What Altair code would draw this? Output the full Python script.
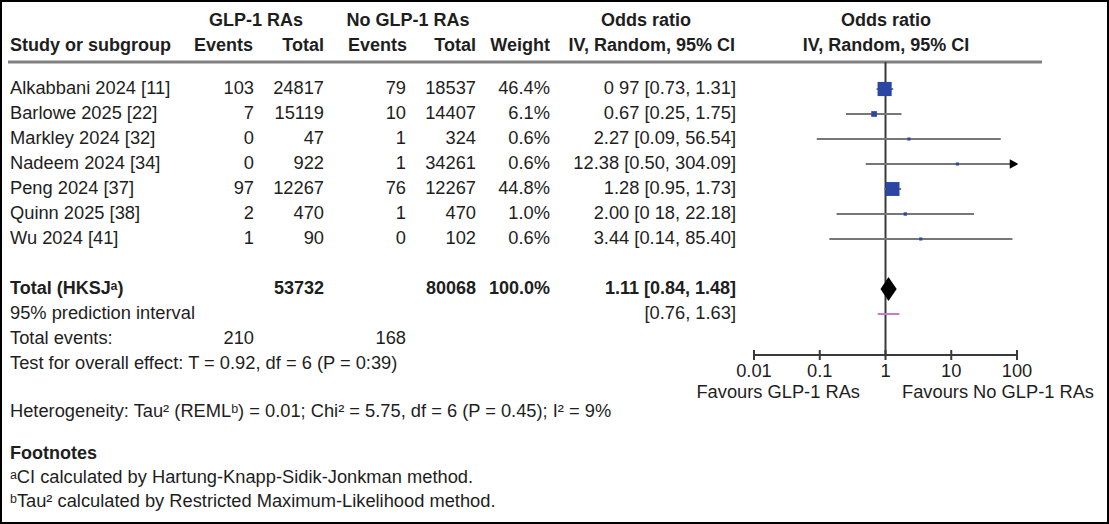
import altair as alt
import pandas as pd

# ---- study-level data -------------------------------------------------------
studies = ["Alkabbani 2024 [11]", "Barlowe 2025 [22]", "Markley 2024 [32]",
           "Nadeem 2024 [34]", "Peng 2024 [37]", "Quinn 2025 [38]", "Wu 2024 [41]"]
glp_events = [103, 7, 0, 0, 97, 2, 1]
glp_total = [24817, 15119, 47, 922, 12267, 470, 90]
ctrl_events = [79, 10, 1, 1, 76, 1, 0]
ctrl_total = [18537, 14407, 324, 34261, 12267, 470, 102]
weights = [46.4, 6.1, 0.6, 0.6, 44.8, 1.0, 0.6]
odds_ratio = [0.97, 0.67, 2.27, 12.38, 1.28, 2.00, 3.44]
ci_low = [0.73, 0.25, 0.09, 0.50, 0.95, 0.18, 0.14]
ci_high = [1.31, 1.75, 56.54, 304.09, 1.73, 22.18, 85.40]
or_text = ["0 97 [0.73, 1.31]", "0.67 [0.25, 1.75]", "2.27 [0.09, 56.54]",
           "12.38 [0.50, 304.09]", "1.28 [0.95, 1.73]", "2.00 [0 18, 22.18]",
           "3.44 [0.14, 85.40]"]

# ---- pooled results ---------------------------------------------------------
pooled_or, pooled_low, pooled_high = 1.11, 0.84, 1.48
pred_low, pred_high = 0.76, 1.63
total_glp, total_ctrl = 53732, 80068
events_glp, events_ctrl = 210, 168

axis_ticks = [0.01, 0.1, 1, 10, 100]
axis_labels = ["0.01", "0.1", "1", "10", "100"]

FONT = "Liberation Sans"
FS = 18.3
FS_BOLD = 18
INK = "#1e1e1e"

# vertical layout in "line" units (one table row per unit)
n = len(studies)
study_rows = list(range(n))
total_row = n + 1
pred_row = n + 2
events_row = n + 3
test_row = n + 4
axis_row = 10.64
head1_row, head2_row = -2.72, -1.72
rule_row = -1.08

yscale = alt.Scale(domain=[-3.56, 17.4], range=[0, 524])
xscale = alt.Scale(type="log", domain=[axis_ticks[0], axis_ticks[-1]], range=[754, 1017])
X_MAX = axis_ticks[-1]


def texts(items, x, align="right", bold=False):
    df = pd.DataFrame(items, columns=["label", "row"])
    return alt.Chart(df).mark_text(
        align=align, baseline="middle", font=FONT,
        fontSize=FS_BOLD if bold else FS,
        fontWeight="bold" if bold else "normal", color=INK,
    ).encode(
        x=alt.value(x),
        y=alt.Y("row:Q", scale=yscale, axis=None),
        text="label:N",
    )


layers = []

# column headers
layers += [
    texts([("GLP-1 RAs", head1_row)], 256, "center", True),
    texts([("No GLP-1 RAs", head1_row)], 408, "center", True),
    texts([("Odds ratio", head1_row)], 646, "center", True),
    texts([("Odds ratio", head1_row)], 886, "center", True),
    texts([("Study or subgroup", head2_row)], 10, "left", True),
    texts([("Events", head2_row)], 253, "right", True),
    texts([("Total", head2_row)], 324, "right", True),
    texts([("Events", head2_row)], 407, "right", True),
    texts([("Total", head2_row)], 476, "right", True),
    texts([("Weight", head2_row)], 550, "right", True),
    texts([("IV, Random, 95% CI", head2_row)], 735, "right", True),
    texts([("IV, Random, 95% CI", head2_row)], 886, "center", True),
]

# study rows
layers += [
    texts(list(zip(studies, study_rows)), 10, "left"),
    texts(list(zip([str(v) for v in glp_events], study_rows)), 254),
    texts(list(zip([str(v) for v in glp_total], study_rows)), 324),
    texts(list(zip([str(v) for v in ctrl_events], study_rows)), 406),
    texts(list(zip([str(v) for v in ctrl_total], study_rows)), 476),
    texts(list(zip([f"{w:.1f}%" for w in weights], study_rows)), 550),
    texts(list(zip(or_text, study_rows)), 736),
]

# totals and summary lines
layers += [
    texts([("Total (HKSJ\u1d43)", total_row)], 10, "left", True),
    texts([(str(total_glp), total_row)], 324, "right", True),
    texts([(str(total_ctrl), total_row)], 476, "right", True),
    texts([("100.0%", total_row)], 550, "right", True),
    texts([(f"{pooled_or:.2f} [{pooled_low:.2f}, {pooled_high:.2f}]", total_row)], 736, "right", True),
    texts([("95% prediction interval", pred_row)], 10, "left"),
    texts([(f"[{pred_low:.2f}, {pred_high:.2f}]", pred_row)], 736, "right"),
    texts([("Total events:", events_row)], 10, "left"),
    texts([(str(events_glp), events_row)], 254),
    texts([(str(events_ctrl), events_row)], 406),
    texts([("Test for overall effect: T = 0.92, df = 6 (P = 0:39)", test_row)], 10, "left"),
    texts([("Heterogeneity: Tau\u00b2 (REML\u1d47) = 0.01; Chi\u00b2 = 5.75, df = 6 (P = 0.45); I\u00b2 = 9%", 12.92)], 10, "left"),
    texts([("Footnotes", 14.6)], 10, "left", True),
    texts([("\u1d43CI calculated by Hartung-Knapp-Sidik-Jonkman method.", 15.56)], 10, "left"),
    texts([("\u1d47Tau\u00b2 calculated by Restricted Maximum-Likelihood method.", 16.52)], 10, "left"),
]

# header separator
sep = alt.Chart(pd.DataFrame({"row": [rule_row]})).mark_rule(
    color="#808080", strokeWidth=3
).encode(x=alt.value(8), x2=alt.value(1042), y=alt.Y("row:Q", scale=yscale, axis=None))
layers.append(sep)

# line of no effect
noeff = alt.Chart(pd.DataFrame({"x": [1.0], "r1": [rule_row], "r2": [axis_row]})).mark_rule(
    color="#3a3a3a", strokeWidth=2
).encode(
    x=alt.X("x:Q", scale=xscale, axis=None),
    y=alt.Y("r1:Q", scale=yscale, axis=None),
    y2="r2:Q",
)
layers.append(noeff)

# study confidence intervals, squares, and overflow arrows
forest = pd.DataFrame({
    "study": studies, "row": study_rows, "or": odds_ratio, "lo": ci_low,
    "hi": [min(h, X_MAX) for h in ci_high], "w": weights,
})
ci = alt.Chart(forest).mark_rule(color="#777777", strokeWidth=2).encode(
    x=alt.X("lo:Q", scale=xscale, axis=None), x2="hi:Q",
    y=alt.Y("row:Q", scale=yscale, axis=None),
)
boxes = alt.Chart(forest).mark_square(color="#2b47a3", opacity=1).encode(
    x=alt.X("or:Q", scale=xscale, axis=None),
    y=alt.Y("row:Q", scale=yscale, axis=None),
    size=alt.Size("w:Q", scale=alt.Scale(domain=[0, 46.4], range=[7, 200]), legend=None),
)
over = pd.DataFrame({"row": [r for r, h in zip(study_rows, ci_high) if h > X_MAX]})
over["x"] = X_MAX
arrows = alt.Chart(over).mark_point(
    shape="triangle-right", filled=True, color="#000000", size=95, opacity=1, xOffset=-3
).encode(
    x=alt.X("x:Q", scale=xscale, axis=None),
    y=alt.Y("row:Q", scale=yscale, axis=None),
)
layers += [ci, boxes, arrows]

# pooled diamond
half = 0.48
diamond = pd.DataFrame({
    "x": [pooled_low, pooled_or, pooled_high],
    "top": [total_row, total_row - half, total_row],
    "bot": [total_row, total_row + half, total_row],
})
dia = alt.Chart(diamond).mark_area(color="#000000", opacity=1, orient="vertical").encode(
    x=alt.X("x:Q", scale=xscale, axis=None),
    y=alt.Y("top:Q", scale=yscale, axis=None),
    y2="bot:Q",
)
layers.append(dia)

# prediction interval
pi = alt.Chart(pd.DataFrame({"lo": [pred_low], "hi": [pred_high], "row": [pred_row]})).mark_rule(
    color="#c77cc7", strokeWidth=2
).encode(
    x=alt.X("lo:Q", scale=xscale, axis=None), x2="hi:Q",
    y=alt.Y("row:Q", scale=yscale, axis=None),
)
layers.append(pi)

# log axis drawn as rules and labels
ax_line = alt.Chart(pd.DataFrame({"a": [axis_ticks[0]], "b": [axis_ticks[-1]], "row": [axis_row]})).mark_rule(
    color="#3a3a3a", strokeWidth=2
).encode(
    x=alt.X("a:Q", scale=xscale, axis=None), x2="b:Q",
    y=alt.Y("row:Q", scale=yscale, axis=None),
)
tick_df = pd.DataFrame({"t": axis_ticks, "label": axis_labels,
                        "r1": axis_row - 0.2, "r2": axis_row + 0.2, "lr": 11.32})
ax_ticks = alt.Chart(tick_df).mark_rule(color="#3a3a3a", strokeWidth=2).encode(
    x=alt.X("t:Q", scale=xscale, axis=None),
    y=alt.Y("r1:Q", scale=yscale, axis=None), y2="r2:Q",
)
ax_labels = alt.Chart(tick_df).mark_text(
    font=FONT, fontSize=FS, color=INK, baseline="middle", align="center"
).encode(
    x=alt.X("t:Q", scale=xscale, axis=None),
    y=alt.Y("lr:Q", scale=yscale, axis=None),
    text="label:N",
)
layers += [ax_line, ax_ticks, ax_labels,
           texts([("Favours GLP-1 RAs", 12.16)], 860, "right"),
           texts([("Favours No GLP-1 RAs", 12.16)], 902, "left")]

# outer frame
frame = alt.Chart(pd.DataFrame({"k": [0]})).mark_rect(
    fill="transparent", stroke="#000000", strokeWidth=2
).encode(x=alt.value(1), x2=alt.value(1108), y=alt.value(1), y2=alt.value(523))
layers.append(frame)

chart = alt.layer(*layers).properties(
    width=1109, height=524, padding=0, autosize=alt.AutoSizeParams(type="none"),
    background="#ffffff",
).configure_view(stroke=None)

chart.save("out.html", embed_options={"renderer": "svg", "actions": False})
